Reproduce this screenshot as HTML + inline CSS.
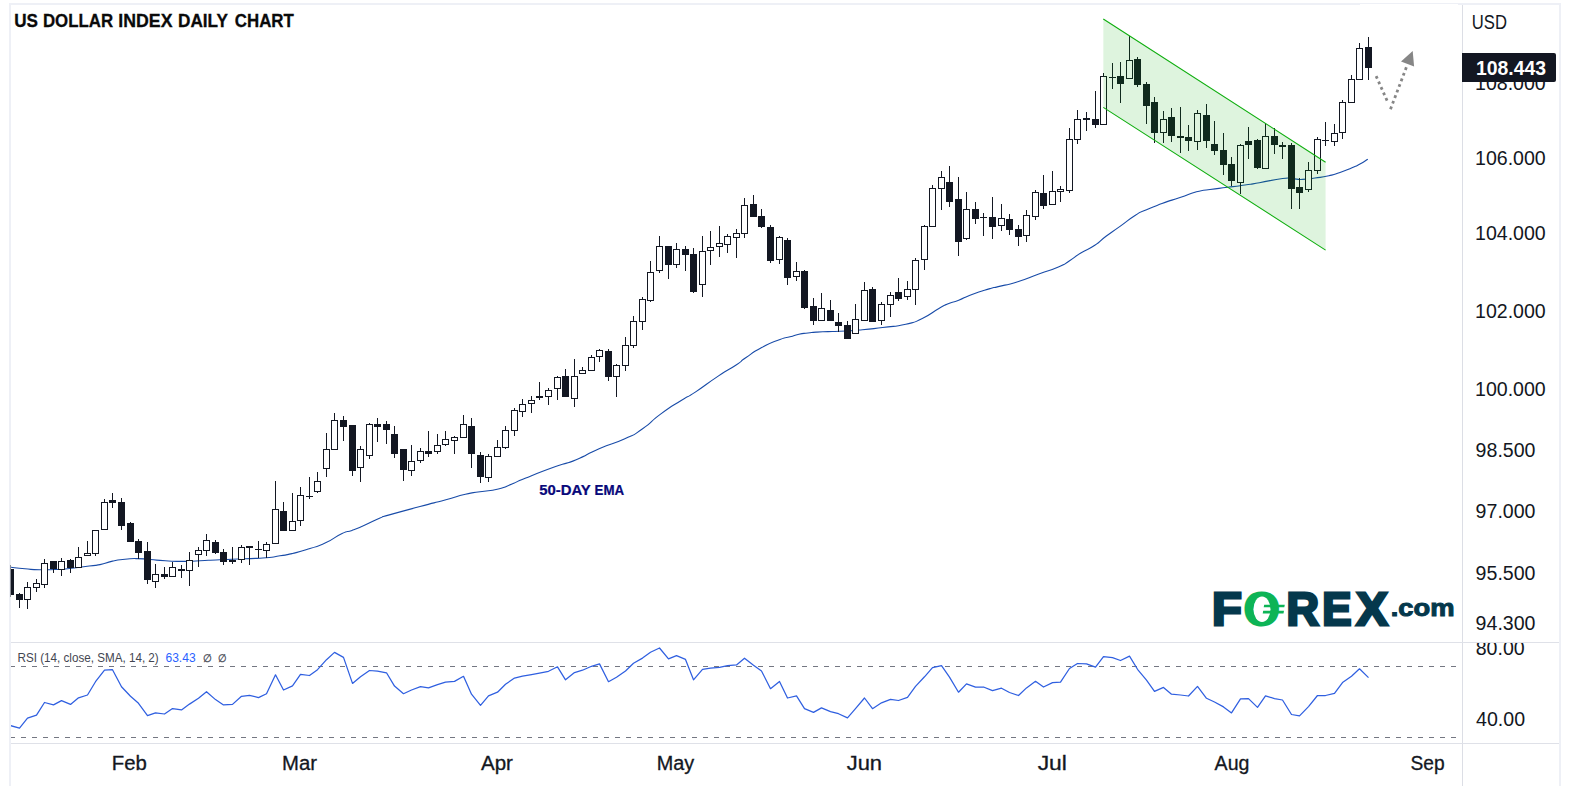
<!DOCTYPE html>
<html lang="en">
<head>
<meta charset="utf-8">
<title>US Dollar Index Daily Chart</title>
<style>
html,body{margin:0;padding:0;background:#fff;}
body{width:1570px;height:786px;overflow:hidden;position:relative;font-family:"Liberation Sans",sans-serif;}
svg{position:absolute;left:0;top:0;display:block;}
text{font-family:"Liberation Sans",sans-serif;}
.ax text{font-size:19.7px;fill:#131722;}
</style>
</head>
<body>
<svg width="1570" height="786" viewBox="0 0 1570 786">
<defs>
<clipPath id="pane"><rect x="11" y="5" width="1451" height="637"/></clipPath>
<clipPath id="rsiax"><rect x="1463" y="643" width="96" height="100"/></clipPath>
<clipPath id="rsip"><rect x="11" y="643" width="1451" height="100"/></clipPath>
</defs>
<rect width="1570" height="786" fill="#fff"/>
<!-- frame -->
<g shape-rendering="crispEdges">
<rect x="9" y="3" width="1552" height="1" fill="#eef0f6"/>
<rect x="9" y="4" width="1351" height="1" fill="#eef0f6"/>
<rect x="1458" y="4" width="103" height="1" fill="#eef0f6"/>
<rect x="9" y="3" width="2" height="783" fill="#eef0f6"/>
<rect x="1559" y="3" width="2" height="783" fill="#eef0f6"/>
<rect x="1462" y="5" width="1" height="781" fill="#dcdee5"/>
<rect x="11" y="642" width="1548" height="1" fill="#dfe1e8"/>
<rect x="11" y="743" width="1548" height="1" fill="#dfe1e8"/>
</g>
<rect x="10" y="565" width="1" height="32" fill="#8b8e97" shape-rendering="crispEdges"/>
<!-- price pane -->
<g clip-path="url(#pane)">
<path id="ema" d="M10.8 567.2C15.5 567.7 15.4 568 25 568.8C34.6 569.6 29.7 569.5 39.7 569.7C49.7 569.9 45.1 569.9 55 569.5C64.9 569.1 58.1 569.7 69.5 568.5C80.9 567.3 79.1 567.3 89.3 566C99.5 564.7 92.3 566.2 100 564.6C107.7 563 104.2 562.9 112.5 561.1C120.8 559.3 116.7 560.1 125 559.3C133.3 558.5 129 558.5 137.3 558.6C145.6 558.7 140.6 558.8 150 559.5C159.4 560.2 154.2 560.2 165.4 560.8C176.6 561.4 172.1 561.4 183.6 561.4C195.1 561.4 188 561.4 200 560.8C212 560.2 204.7 560.4 219.7 559.7C234.7 559 229.6 559.5 245 558.8C260.4 558.1 254.3 558.7 266 557.7C277.7 556.7 271.2 557.2 280 555.8C288.8 554.4 282.5 555.9 292.5 553.5C302.5 551.1 299 552.1 310 548.5C321 544.9 314.9 547.8 325.6 542.8C336.3 537.8 333.3 537.5 342.1 533.4C350.9 529.3 344.4 533.2 352 530.4C359.6 527.6 355.7 529.1 365 525C374.3 520.9 371.9 521.4 380 518C388.1 514.6 376 518.7 389.3 514.9C402.6 511.1 401.4 511.5 420 506.5C438.6 501.5 429.9 504.1 445 500C460.1 495.9 453.7 496.9 465.4 494.2C477.1 491.5 469 493.5 480 491.8C491 490.1 487.6 491.6 498.3 489C509 486.4 502.8 487.7 512 484C521.2 480.3 511.3 483.8 525.8 478C540.3 472.2 538.8 472.7 555.6 466.6C572.4 460.5 561.7 465.7 576.2 459.7C590.7 453.7 583.1 455.6 599.1 448.7C615.1 441.8 609.8 445.7 624.3 439.1C638.8 432.5 630.4 437.2 642.6 428.8C654.8 420.4 647.9 423.4 660.9 413.9C673.9 404.4 670.1 407.5 681.6 400.2C693.1 392.9 683.1 400.1 695.3 392.1C707.5 384.1 704.5 385.2 718.2 376.1C731.9 367 727.3 370.8 736.5 364.7C745.7 358.6 737.3 363.5 745.7 357.8C754.1 352.1 750.3 353.6 761.7 347.5C773.1 341.4 770.6 343.1 780 339.5C789.4 335.9 783.7 338.6 790 336.8C796.3 335 792.9 335.5 798.9 334.2C804.9 332.9 802 333.7 808 333C814 332.3 810.1 332.6 816.8 332.1C823.5 331.6 820.4 331.9 828 331.6C835.6 331.3 829.1 331.7 839.6 331.2C850.1 330.7 845.2 331.2 859.5 330C873.8 328.8 867.2 329.4 882.6 327.5C898 325.6 892.6 327.2 905.8 324.2C919 321.2 911.3 323.6 922.3 318.4C933.3 313.2 930.1 313.5 938.9 308.5C947.7 303.5 942.2 306.3 948.8 303.5C955.4 300.7 951 303.2 958.7 300.2C966.4 297.2 961.6 298.3 972 294.4C982.4 290.5 981.3 291.2 990 288.6C998.7 286 988.9 288.9 998.2 286.6C1007.5 284.3 1004.3 285.9 1017.8 281.7C1031.3 277.5 1025.3 278.9 1038.8 274C1052.3 269.1 1048.1 271.4 1058.4 267C1068.7 262.6 1062.1 265.4 1069.6 260.7C1077.1 256 1072.4 258.1 1080.8 253C1089.2 247.9 1086.4 250.9 1094.8 245.3C1103.2 239.7 1097.6 242.5 1106 236.2C1114.4 229.9 1110.2 233.4 1120 226.4C1129.8 219.4 1127 220.6 1135.4 215.2C1143.8 209.8 1136.3 214.2 1145.2 210.3C1154.1 206.4 1150.4 207.9 1162 203.6C1173.6 199.3 1168.5 201.4 1180 197.5C1191.5 193.6 1186.5 194.5 1196.5 191.8C1206.5 189.1 1199.5 191 1210 189.5C1220.5 188 1216.3 188.8 1228 187.3C1239.7 185.8 1234.5 186.5 1245 185C1255.5 183.5 1246.9 184.9 1259.4 182.7C1271.9 180.5 1271.7 179.9 1282.6 178.5C1293.5 177.1 1285.4 178.3 1292 178.6C1298.6 178.9 1294.7 179.6 1302.4 179.4C1310.1 179.2 1306.2 179.2 1315 178C1323.8 176.8 1320.6 177.5 1328.9 175.7C1337.2 173.9 1332.3 175.1 1340 172.5C1347.7 169.9 1345.3 170.6 1352 167.8C1358.7 165 1354.7 166.9 1360 164C1365.3 161.1 1365.2 160.8 1367.8 159.2" fill="none" stroke="#184ba8" stroke-width="1.1" stroke-linejoin="round"/>
<g id="candles" fill="#131722" shape-rendering="crispEdges">
<path fill="#fff" d="M25 588h5V599h-5zM34 584h5V587h-5zM42 564h5V584h-5zM59 562h5V569h-5zM76 558h5V567h-5zM85 554h5V555h-5zM93 531h5V553h-5zM102 503h5V529h-5zM153 575h5V581h-5zM170 568h5V576h-5zM187 561h5V570h-5zM196 551h5V554h-5zM204 541h5V550h-5zM239 548h5V559h-5zM264 545h5V550h-5zM273 510h5V543h-5zM290 522h5V530h-5zM298 496h5V520h-5zM315 482h5V491h-5zM324 450h5V468h-5zM332 421h5V449h-5zM358 450h5V467h-5zM367 425h5V455h-5zM409 462h5V470h-5zM418 452h5V460h-5zM435 446h5V451h-5zM443 440h5V444h-5zM452 438h5V440h-5zM461 425h5V437h-5zM486 457h5V477h-5zM495 448h5V456h-5zM503 431h5V447h-5zM512 411h5V430h-5zM520 405h5V411h-5zM529 401h5V403h-5zM546 391h5V396h-5zM555 378h5V388h-5zM572 377h5V398h-5zM580 371h5V373h-5zM589 358h5V370h-5zM597 351h5V356h-5zM614 366h5V376h-5zM623 346h5V365h-5zM631 322h5V345h-5zM640 300h5V321h-5zM648 273h5V300h-5zM657 247h5V270h-5zM674 250h5V264h-5zM700 252h5V284h-5zM708 248h5V250h-5zM717 244h5V246h-5zM725 237h5V244h-5zM734 234h5V237h-5zM742 206h5V233h-5zM777 238h5V259h-5zM794 272h5V276h-5zM819 309h5V320h-5zM853 320h5V333h-5zM862 291h5V320h-5zM879 305h5V320h-5zM888 296h5V304h-5zM905 290h5V296h-5zM913 261h5V289h-5zM922 227h5V259h-5zM930 189h5V226h-5zM939 178h5V188h-5zM964 210h5V238h-5zM999 219h5V225h-5zM1024 216h5V235h-5zM1033 193h5V216h-5zM1050 192h5V204h-5zM1058 190h5V191h-5zM1067 140h5V190h-5zM1075 120h5V139h-5zM1101 77h5V124h-5zM1127 61h5V78h-5zM1161 120h5V132h-5zM1195 114h5V141h-5zM1238 146h5V182h-5zM1263 137h5V168h-5zM1306 171h5V189h-5zM1315 140h5V170h-5zM1332 134h5V141h-5zM1340 103h5V132h-5zM1349 80h5V102h-5zM1357 49h5V79h-5z"/>
<path d="M10 569h1V596h-1zM19 593h1V608h-1zM27 582h1V587h-1zM27 600h1V609h-1zM36 579h1V583h-1zM36 588h1V592h-1zM44 559h1V563h-1zM44 585h1V588h-1zM53 561h1V573h-1zM61 558h1V561h-1zM61 570h1V576h-1zM70 559h1V573h-1zM78 547h1V557h-1zM87 541h1V553h-1zM95 554h1V556h-1zM104 499h1V502h-1zM112 493h1V508h-1zM121 498h1V530h-1zM130 522h1V542h-1zM138 539h1V559h-1zM147 542h1V584h-1zM155 564h1V574h-1zM155 582h1V588h-1zM164 567h1V579h-1zM172 562h1V567h-1zM181 565h1V578h-1zM189 552h1V560h-1zM189 571h1V586h-1zM198 547h1V550h-1zM198 555h1V567h-1zM206 534h1V540h-1zM206 551h1V556h-1zM215 540h1V554h-1zM223 549h1V565h-1zM232 547h1V564h-1zM241 545h1V547h-1zM241 560h1V563h-1zM249 546h1V565h-1zM258 541h1V558h-1zM266 542h1V544h-1zM266 551h1V558h-1zM275 481h1V509h-1zM283 502h1V531h-1zM292 493h1V521h-1zM300 487h1V495h-1zM300 521h1V526h-1zM309 477h1V499h-1zM317 472h1V481h-1zM317 492h1V493h-1zM326 433h1V449h-1zM326 469h1V477h-1zM334 413h1V420h-1zM343 416h1V441h-1zM352 425h1V476h-1zM360 446h1V449h-1zM360 468h1V482h-1zM369 423h1V424h-1zM369 456h1V459h-1zM377 418h1V442h-1zM386 421h1V444h-1zM394 426h1V458h-1zM403 449h1V481h-1zM411 445h1V461h-1zM411 471h1V476h-1zM420 448h1V451h-1zM420 461h1V463h-1zM428 431h1V457h-1zM437 434h1V445h-1zM437 452h1V454h-1zM445 431h1V439h-1zM445 445h1V446h-1zM454 436h1V437h-1zM454 441h1V454h-1zM463 415h1V424h-1zM471 418h1V468h-1zM480 452h1V483h-1zM488 454h1V456h-1zM488 478h1V482h-1zM497 440h1V447h-1zM505 426h1V430h-1zM505 448h1V449h-1zM514 408h1V410h-1zM514 431h1V436h-1zM522 399h1V404h-1zM522 412h1V417h-1zM531 396h1V400h-1zM531 404h1V413h-1zM539 382h1V400h-1zM548 388h1V390h-1zM548 397h1V405h-1zM557 376h1V377h-1zM557 389h1V400h-1zM565 369h1V397h-1zM574 359h1V376h-1zM574 399h1V407h-1zM582 367h1V370h-1zM591 355h1V357h-1zM599 349h1V350h-1zM599 357h1V362h-1zM608 349h1V381h-1zM616 364h1V365h-1zM616 377h1V397h-1zM625 337h1V345h-1zM625 366h1V371h-1zM633 316h1V321h-1zM633 346h1V348h-1zM642 297h1V299h-1zM642 322h1V330h-1zM650 261h1V272h-1zM650 301h1V302h-1zM659 236h1V246h-1zM659 271h1V273h-1zM668 246h1V279h-1zM676 243h1V249h-1zM676 265h1V268h-1zM685 246h1V271h-1zM693 248h1V293h-1zM702 236h1V251h-1zM702 285h1V297h-1zM710 231h1V247h-1zM710 251h1V265h-1zM719 226h1V243h-1zM719 247h1V257h-1zM727 234h1V236h-1zM727 245h1V253h-1zM736 229h1V233h-1zM736 238h1V258h-1zM744 198h1V205h-1zM744 234h1V238h-1zM753 195h1V217h-1zM761 209h1V228h-1zM770 225h1V263h-1zM779 236h1V237h-1zM779 260h1V264h-1zM787 238h1V285h-1zM796 262h1V271h-1zM796 277h1V281h-1zM804 270h1V309h-1zM813 298h1V325h-1zM821 293h1V308h-1zM830 300h1V321h-1zM838 313h1V332h-1zM847 321h1V339h-1zM855 304h1V319h-1zM864 282h1V290h-1zM872 287h1V322h-1zM881 302h1V304h-1zM881 321h1V325h-1zM890 292h1V295h-1zM890 305h1V317h-1zM898 278h1V301h-1zM907 281h1V289h-1zM907 297h1V300h-1zM915 258h1V260h-1zM915 290h1V305h-1zM924 225h1V226h-1zM924 260h1V270h-1zM932 185h1V188h-1zM941 171h1V177h-1zM941 189h1V210h-1zM949 166h1V207h-1zM958 177h1V256h-1zM966 192h1V209h-1zM966 239h1V240h-1zM975 202h1V224h-1zM983 213h1V236h-1zM992 197h1V239h-1zM1001 204h1V218h-1zM1001 226h1V231h-1zM1009 214h1V235h-1zM1018 225h1V246h-1zM1026 210h1V215h-1zM1026 236h1V242h-1zM1035 190h1V192h-1zM1035 217h1V220h-1zM1043 175h1V209h-1zM1052 171h1V191h-1zM1060 186h1V189h-1zM1060 192h1V202h-1zM1069 128h1V139h-1zM1069 191h1V193h-1zM1077 110h1V119h-1zM1077 140h1V144h-1zM1086 112h1V131h-1zM1095 91h1V128h-1zM1103 73h1V76h-1zM1112 63h1V89h-1zM1120 62h1V103h-1zM1129 36h1V60h-1zM1137 57h1V87h-1zM1146 82h1V124h-1zM1154 97h1V143h-1zM1163 111h1V119h-1zM1163 133h1V143h-1zM1171 108h1V142h-1zM1180 107h1V153h-1zM1188 125h1V151h-1zM1197 110h1V113h-1zM1197 142h1V150h-1zM1206 104h1V148h-1zM1214 121h1V155h-1zM1223 133h1V175h-1zM1231 157h1V186h-1zM1240 144h1V145h-1zM1240 183h1V194h-1zM1248 127h1V159h-1zM1257 139h1V169h-1zM1265 123h1V136h-1zM1274 128h1V154h-1zM1282 142h1V159h-1zM1291 143h1V209h-1zM1299 178h1V209h-1zM1308 162h1V170h-1zM1308 190h1V192h-1zM1317 137h1V139h-1zM1317 171h1V174h-1zM1325 122h1V146h-1zM1334 124h1V133h-1zM1334 142h1V146h-1zM1342 100h1V102h-1zM1342 133h1V139h-1zM1351 75h1V79h-1zM1359 43h1V48h-1zM1368 37h1V80h-1zM7 569h7V595h-7zM16 594h7V600h-7zM50 561h7V569h-7zM67 560h7V568h-7zM109 500h7V503h-7zM118 502h7V526h-7zM127 523h7V542h-7zM135 541h7V553h-7zM144 551h7V580h-7zM161 574h7V577h-7zM178 569h7V571h-7zM212 542h7V553h-7zM220 552h7V562h-7zM229 560h7V562h-7zM246 546h7V548h-7zM255 549h7V550h-7zM280 511h7V531h-7zM306 496h7V497h-7zM340 420h7V427h-7zM349 425h7V471h-7zM374 424h7V427h-7zM383 424h7V430h-7zM391 434h7V454h-7zM400 449h7V470h-7zM425 451h7V454h-7zM468 426h7V454h-7zM477 455h7V477h-7zM536 396h7V398h-7zM562 376h7V397h-7zM605 351h7V377h-7zM665 246h7V265h-7zM682 249h7V255h-7zM690 254h7V292h-7zM750 204h7V217h-7zM758 216h7V227h-7zM767 227h7V261h-7zM784 240h7V278h-7zM801 271h7V308h-7zM810 306h7V321h-7zM827 310h7V321h-7zM835 322h7V326h-7zM844 325h7V339h-7zM869 289h7V322h-7zM895 292h7V299h-7zM946 182h7V202h-7zM955 199h7V242h-7zM972 209h7V219h-7zM980 217h7V218h-7zM989 217h7V227h-7zM1006 219h7V230h-7zM1015 229h7V237h-7zM1040 193h7V206h-7zM1083 118h7V120h-7zM1092 119h7V125h-7zM1109 77h7V78h-7zM1117 76h7V84h-7zM1134 59h7V85h-7zM1143 84h7V106h-7zM1151 102h7V133h-7zM1168 117h7V136h-7zM1177 136h7V138h-7zM1185 137h7V141h-7zM1203 115h7V141h-7zM1211 144h7V151h-7zM1220 150h7V165h-7zM1228 164h7V181h-7zM1245 141h7V145h-7zM1254 140h7V168h-7zM1271 136h7V145h-7zM1279 145h7V147h-7zM1288 145h7V189h-7zM1296 187h7V193h-7zM1322 140h7V141h-7zM1365 47h7V68h-7z"/>
<path fill-rule="evenodd" d="M24 587h7V600h-7zM25 588V599h5V588zM33 583h7V588h-7zM34 584V587h5V584zM41 563h7V585h-7zM42 564V584h5V564zM58 561h7V570h-7zM59 562V569h5V562zM75 557h7V568h-7zM76 558V567h5V558zM84 553h7V556h-7zM85 554V555h5V554zM92 530h7V554h-7zM93 531V553h5V531zM101 502h7V530h-7zM102 503V529h5V503zM152 574h7V582h-7zM153 575V581h5V575zM169 567h7V577h-7zM170 568V576h5V568zM186 560h7V571h-7zM187 561V570h5V561zM195 550h7V555h-7zM196 551V554h5V551zM203 540h7V551h-7zM204 541V550h5V541zM238 547h7V560h-7zM239 548V559h5V548zM263 544h7V551h-7zM264 545V550h5V545zM272 509h7V544h-7zM273 510V543h5V510zM289 521h7V531h-7zM290 522V530h5V522zM297 495h7V521h-7zM298 496V520h5V496zM314 481h7V492h-7zM315 482V491h5V482zM323 449h7V469h-7zM324 450V468h5V450zM331 420h7V450h-7zM332 421V449h5V421zM357 449h7V468h-7zM358 450V467h5V450zM366 424h7V456h-7zM367 425V455h5V425zM408 461h7V471h-7zM409 462V470h5V462zM417 451h7V461h-7zM418 452V460h5V452zM434 445h7V452h-7zM435 446V451h5V446zM442 439h7V445h-7zM443 440V444h5V440zM451 437h7V441h-7zM452 438V440h5V438zM460 424h7V438h-7zM461 425V437h5V425zM485 456h7V478h-7zM486 457V477h5V457zM494 447h7V457h-7zM495 448V456h5V448zM502 430h7V448h-7zM503 431V447h5V431zM511 410h7V431h-7zM512 411V430h5V411zM519 404h7V412h-7zM520 405V411h5V405zM528 400h7V404h-7zM529 401V403h5V401zM545 390h7V397h-7zM546 391V396h5V391zM554 377h7V389h-7zM555 378V388h5V378zM571 376h7V399h-7zM572 377V398h5V377zM579 370h7V374h-7zM580 371V373h5V371zM588 357h7V371h-7zM589 358V370h5V358zM596 350h7V357h-7zM597 351V356h5V351zM613 365h7V377h-7zM614 366V376h5V366zM622 345h7V366h-7zM623 346V365h5V346zM630 321h7V346h-7zM631 322V345h5V322zM639 299h7V322h-7zM640 300V321h5V300zM647 272h7V301h-7zM648 273V300h5V273zM656 246h7V271h-7zM657 247V270h5V247zM673 249h7V265h-7zM674 250V264h5V250zM699 251h7V285h-7zM700 252V284h5V252zM707 247h7V251h-7zM708 248V250h5V248zM716 243h7V247h-7zM717 244V246h5V244zM724 236h7V245h-7zM725 237V244h5V237zM733 233h7V238h-7zM734 234V237h5V234zM741 205h7V234h-7zM742 206V233h5V206zM776 237h7V260h-7zM777 238V259h5V238zM793 271h7V277h-7zM794 272V276h5V272zM818 308h7V321h-7zM819 309V320h5V309zM852 319h7V334h-7zM853 320V333h5V320zM861 290h7V321h-7zM862 291V320h5V291zM878 304h7V321h-7zM879 305V320h5V305zM887 295h7V305h-7zM888 296V304h5V296zM904 289h7V297h-7zM905 290V296h5V290zM912 260h7V290h-7zM913 261V289h5V261zM921 226h7V260h-7zM922 227V259h5V227zM929 188h7V227h-7zM930 189V226h5V189zM938 177h7V189h-7zM939 178V188h5V178zM963 209h7V239h-7zM964 210V238h5V210zM998 218h7V226h-7zM999 219V225h5V219zM1023 215h7V236h-7zM1024 216V235h5V216zM1032 192h7V217h-7zM1033 193V216h5V193zM1049 191h7V205h-7zM1050 192V204h5V192zM1057 189h7V192h-7zM1058 190V191h5V190zM1066 139h7V191h-7zM1067 140V190h5V140zM1074 119h7V140h-7zM1075 120V139h5V120zM1100 76h7V125h-7zM1101 77V124h5V77zM1126 60h7V79h-7zM1127 61V78h5V61zM1160 119h7V133h-7zM1161 120V132h5V120zM1194 113h7V142h-7zM1195 114V141h5V114zM1237 145h7V183h-7zM1238 146V182h5V146zM1262 136h7V169h-7zM1263 137V168h5V137zM1305 170h7V190h-7zM1306 171V189h5V171zM1314 139h7V171h-7zM1315 140V170h5V140zM1331 133h7V142h-7zM1332 134V141h5V134zM1339 102h7V133h-7zM1340 103V132h5V103zM1348 79h7V103h-7zM1349 80V102h5V80zM1356 48h7V80h-7zM1357 49V79h5V49z"/>
</g>
<!-- channel -->
<path d="M1103.3 18.95L1325.6 162.22V250.12L1103.3 107.4z" fill="#00a800" fill-opacity="0.13"/>
<path d="M1103.3 18.95L1325.6 162.22M1103.3 107.4L1325.6 250.12" fill="none" stroke="#0fae0f" stroke-width="1.1"/>
<!-- projection arrow -->
<path d="M1376.13 76.12L1387.06 100.59M1390.5 109.21L1406.36 67.31" fill="none" stroke="#868686" stroke-width="2.8" stroke-dasharray="2.8 3.2"/>
<path d="M1412.7 51.1L1401 61.4L1414.1 66.6z" fill="#868686"/>
</g>
<!-- RSI pane -->
<g clip-path="url(#rsip)">
<path d="M10.4 666.5H1456M10.4 737.5H1456" fill="none" stroke="#747782" stroke-width="1" stroke-dasharray="5 6" shape-rendering="crispEdges"/>
<path id="rsi" d="M10.5 725.6 L19.5 728.1 L27.5 718.2 L36.5 715.2 L44.5 702.5 L53.5 704.9 L61.5 700.6 L70.5 704.4 L78.5 697.8 L87.5 695 L95.5 681.7 L104.5 670.2 L112.5 669.7 L121.5 686.7 L130.5 696.3 L138.5 703.3 L147.5 715.7 L155.5 712.9 L164.5 714 L172.5 708.6 L181.5 709.9 L189.5 704.1 L198.5 698.3 L206.5 691.7 L215.5 699.6 L223.5 704.9 L232.5 704.4 L241.5 696.3 L249.5 695.3 L258.5 697.6 L266.5 693.8 L275.5 674.8 L283.5 690 L292.5 685.9 L300.5 674.3 L309.5 675.5 L317.5 669.7 L326.5 659.7 L334.5 652.4 L343.5 657.4 L352.5 683.4 L360.5 676.8 L369.5 670.5 L377.5 671.1 L386.5 672.8 L394.5 686.1 L403.5 693.7 L411.5 690 L420.5 686.7 L428.5 687.9 L437.5 684.7 L445.5 682.1 L454.5 681.4 L463.5 676.3 L471.5 694.2 L480.5 705.3 L488.5 695.8 L497.5 692.2 L505.5 684.2 L514.5 678.1 L522.5 676.1 L531.5 674.6 L539.5 673.1 L548.5 671.3 L557.5 666.8 L565.5 679.8 L574.5 672.6 L582.5 670.2 L591.5 666.3 L599.5 663.9 L608.5 681.7 L616.5 677.3 L625.5 671 L633.5 663.2 L642.5 658.1 L650.5 652.3 L659.5 648 L668.5 658.9 L676.5 655.7 L685.5 659.4 L693.5 679.8 L702.5 669.3 L710.5 668.2 L719.5 667.3 L727.5 665.7 L736.5 664.9 L744.5 658.2 L753.5 665.2 L761.5 671 L770.5 688.7 L779.5 681.4 L787.5 698 L796.5 695.8 L804.5 708.7 L813.5 712.4 L821.5 707.9 L830.5 711.6 L838.5 713.7 L847.5 717.9 L855.5 708.7 L864.5 698 L872.5 708.7 L881.5 702.8 L890.5 699.3 L898.5 700.5 L907.5 697.3 L915.5 686.4 L924.5 676.8 L932.5 667.7 L941.5 665.7 L949.5 677.1 L958.5 692.2 L966.5 683.9 L975.5 687.2 L983.5 687 L992.5 690.7 L1001.5 688.2 L1009.5 692.5 L1018.5 695.5 L1026.5 687.9 L1035.5 681.3 L1043.5 687 L1052.5 682.6 L1060.5 682.1 L1069.5 668.5 L1077.5 663.5 L1086.5 663.9 L1095.5 667.2 L1103.5 656.6 L1112.5 657.7 L1120.5 660.5 L1129.5 656.1 L1137.5 669.3 L1146.5 680.1 L1154.5 691.4 L1163.5 687.4 L1171.5 694.2 L1180.5 695 L1188.5 696 L1197.5 686.4 L1206.5 698.3 L1214.5 702 L1223.5 706.9 L1231.5 712.9 L1240.5 698.8 L1248.5 698.6 L1257.5 707.4 L1265.5 695.8 L1274.5 698.6 L1282.5 700 L1291.5 714.5 L1299.5 715.9 L1308.5 706.6 L1317.5 695.5 L1325.5 695.5 L1334.5 693.3 L1342.5 682.6 L1351.5 676.3 L1359.5 668.8 L1368.5 677.6" fill="none" stroke="#2f5fe0" stroke-width="1.25" stroke-linejoin="round"/>
</g>
<!-- texts -->
<text transform="translate(14.17 26.8) scale(0.9195 1)" font-size="18.6" font-weight="700" fill="#0a0a0a" stroke="#0a0a0a" stroke-width="0.3">US</text>
<text transform="translate(42.9 26.8) scale(0.9057 1)" font-size="18.6" font-weight="700" fill="#0a0a0a" stroke="#0a0a0a" stroke-width="0.3">DOLLAR</text>
<text transform="translate(118.35 26.8) scale(0.9531 1)" font-size="18.6" font-weight="700" fill="#0a0a0a" stroke="#0a0a0a" stroke-width="0.3">INDEX</text>
<text transform="translate(177.98 26.8) scale(0.9248 1)" font-size="18.6" font-weight="700" fill="#0a0a0a" stroke="#0a0a0a" stroke-width="0.3">DAILY</text>
<text transform="translate(234.82 26.8) scale(0.9076 1)" font-size="18.6" font-weight="700" fill="#0a0a0a" stroke="#0a0a0a" stroke-width="0.3">CHART</text>
<text transform="translate(539.15 495.2) scale(0.9933 1)" font-size="15" font-weight="700" fill="#08087a" stroke="#08087a" stroke-width="0.25">50-DAY</text>
<text transform="translate(594.54 495.2) scale(0.8868 1)" font-size="15" font-weight="700" fill="#08087a" stroke="#08087a" stroke-width="0.25">EMA</text>
<g class="ax">
<text transform="translate(1475.03 89.9) scale(0.9939 1)">108.000</text>
<text transform="translate(1475.03 164.9) scale(0.9939 1)">106.000</text>
<text transform="translate(1475.03 239.9) scale(0.9939 1)">104.000</text>
<text transform="translate(1475.03 317.9) scale(0.9939 1)">102.000</text>
<text transform="translate(1475.03 395.8) scale(0.9939 1)">100.000</text>
<text transform="translate(1475.62 456.7) scale(0.9939 1)">98.500</text>
<text transform="translate(1475.62 517.5) scale(0.9939 1)">97.000</text>
<text transform="translate(1475.62 579.7) scale(0.9939 1)">95.500</text>
<text transform="translate(1475.62 630.1) scale(0.9939 1)">94.300</text>
<g clip-path="url(#rsiax)"><text transform="translate(1475.72 655.2) scale(0.9939 1)">80.00</text>
<text transform="translate(1476.11 725.7) scale(0.9939 1)">40.00</text></g>
</g>
<text transform="translate(111.77 770) scale(1.0278 1)" font-size="19.8" fill="#131722" stroke="#131722" stroke-width="0.3">Feb</text>
<text transform="translate(281.97 770) scale(1.0261 1)" font-size="19.8" fill="#131722" stroke="#131722" stroke-width="0.3">Mar</text>
<text transform="translate(481 770) scale(1.0375 1)" font-size="19.8" fill="#131722" stroke="#131722" stroke-width="0.3">Apr</text>
<text transform="translate(656.71 770) scale(1.0022 1)" font-size="19.8" fill="#131722" stroke="#131722" stroke-width="0.3">May</text>
<text transform="translate(846.67 770) scale(1.1080 1)" font-size="19.8" fill="#131722" stroke="#131722" stroke-width="0.3">Jun</text>
<text transform="translate(1037.66 770) scale(1.1563 1)" font-size="19.8" fill="#131722" stroke="#131722" stroke-width="0.3">Jul</text>
<text transform="translate(1214.6 770) scale(0.9877 1)" font-size="19.8" fill="#131722" stroke="#131722" stroke-width="0.3">Aug</text>
<text transform="translate(1410.44 770) scale(0.9694 1)" font-size="19.8" fill="#131722" stroke="#131722" stroke-width="0.3">Sep</text>
<text transform="translate(1471.85 28.6) scale(0.8577 1)" font-size="19.4" fill="#131722">USD</text>
<!-- last price label -->
<path d="M1462 53H1554Q1556 53 1556 55V80Q1556 82 1554 82H1462z" fill="#131722"/>
<text transform="translate(1475.94 75.1) scale(0.9562 1)" font-size="20.3" font-weight="700" fill="#fff">108.443</text>
<!-- RSI legend -->
<text transform="translate(17.57 661.9) scale(0.9560 1)" font-size="12.2" fill="#434651">RSI (14, close, SMA, 14, 2)</text>
<text transform="translate(165.5 661.9) scale(0.9858 1)" font-size="12.2" fill="#2962ff">63.43</text>
<text transform="translate(202.64 661.9) scale(0.9154 1)" font-size="11" fill="#434651" stroke="#434651" stroke-width="0.3">∅</text>
<text transform="translate(218.17 661.9) scale(0.8903 1)" font-size="11" fill="#434651" stroke="#434651" stroke-width="0.3">∅</text>
<!-- FOREX.com logo -->
<g id="logo">
<text transform="translate(1212.03 624.6) scale(1.0766 1)" font-size="45.35" font-weight="700" fill="#05384c" stroke="#05384c" stroke-width="2.8">F</text>
<text transform="translate(1243.88 624.6) scale(1.0049 1)" font-size="45.35" font-weight="700" fill="#0db456" stroke="#0db456" stroke-width="2.8">O</text>
<text transform="translate(1286.38 624.6) scale(0.9923 1)" font-size="45.35" font-weight="700" fill="#05384c" stroke="#05384c" stroke-width="2.8">R</text>
<text transform="translate(1322.15 624.6) scale(0.9679 1)" font-size="45.35" font-weight="700" fill="#05384c" stroke="#05384c" stroke-width="2.8">E</text>
<text transform="translate(1356.36 624.6) scale(1.0436 1)" font-size="45.35" font-weight="700" fill="#05384c" stroke="#05384c" stroke-width="2.8">X</text>
<ellipse cx="1262" cy="609.25" rx="8.5" ry="12.75" fill="#fff"/>
<path d="M1264.2 604.8H1284.8L1284.3 607.3H1263.7zM1263.2 610.7H1284L1283.5 613.5H1262.7z" fill="#0db456"/>
<text transform="translate(1390.72 615.9) scale(1.1175 1)" font-size="24.5" font-weight="700" fill="#05384c" stroke="#05384c" stroke-width="1">.com</text>
</g>
</svg>
</body>
</html>
